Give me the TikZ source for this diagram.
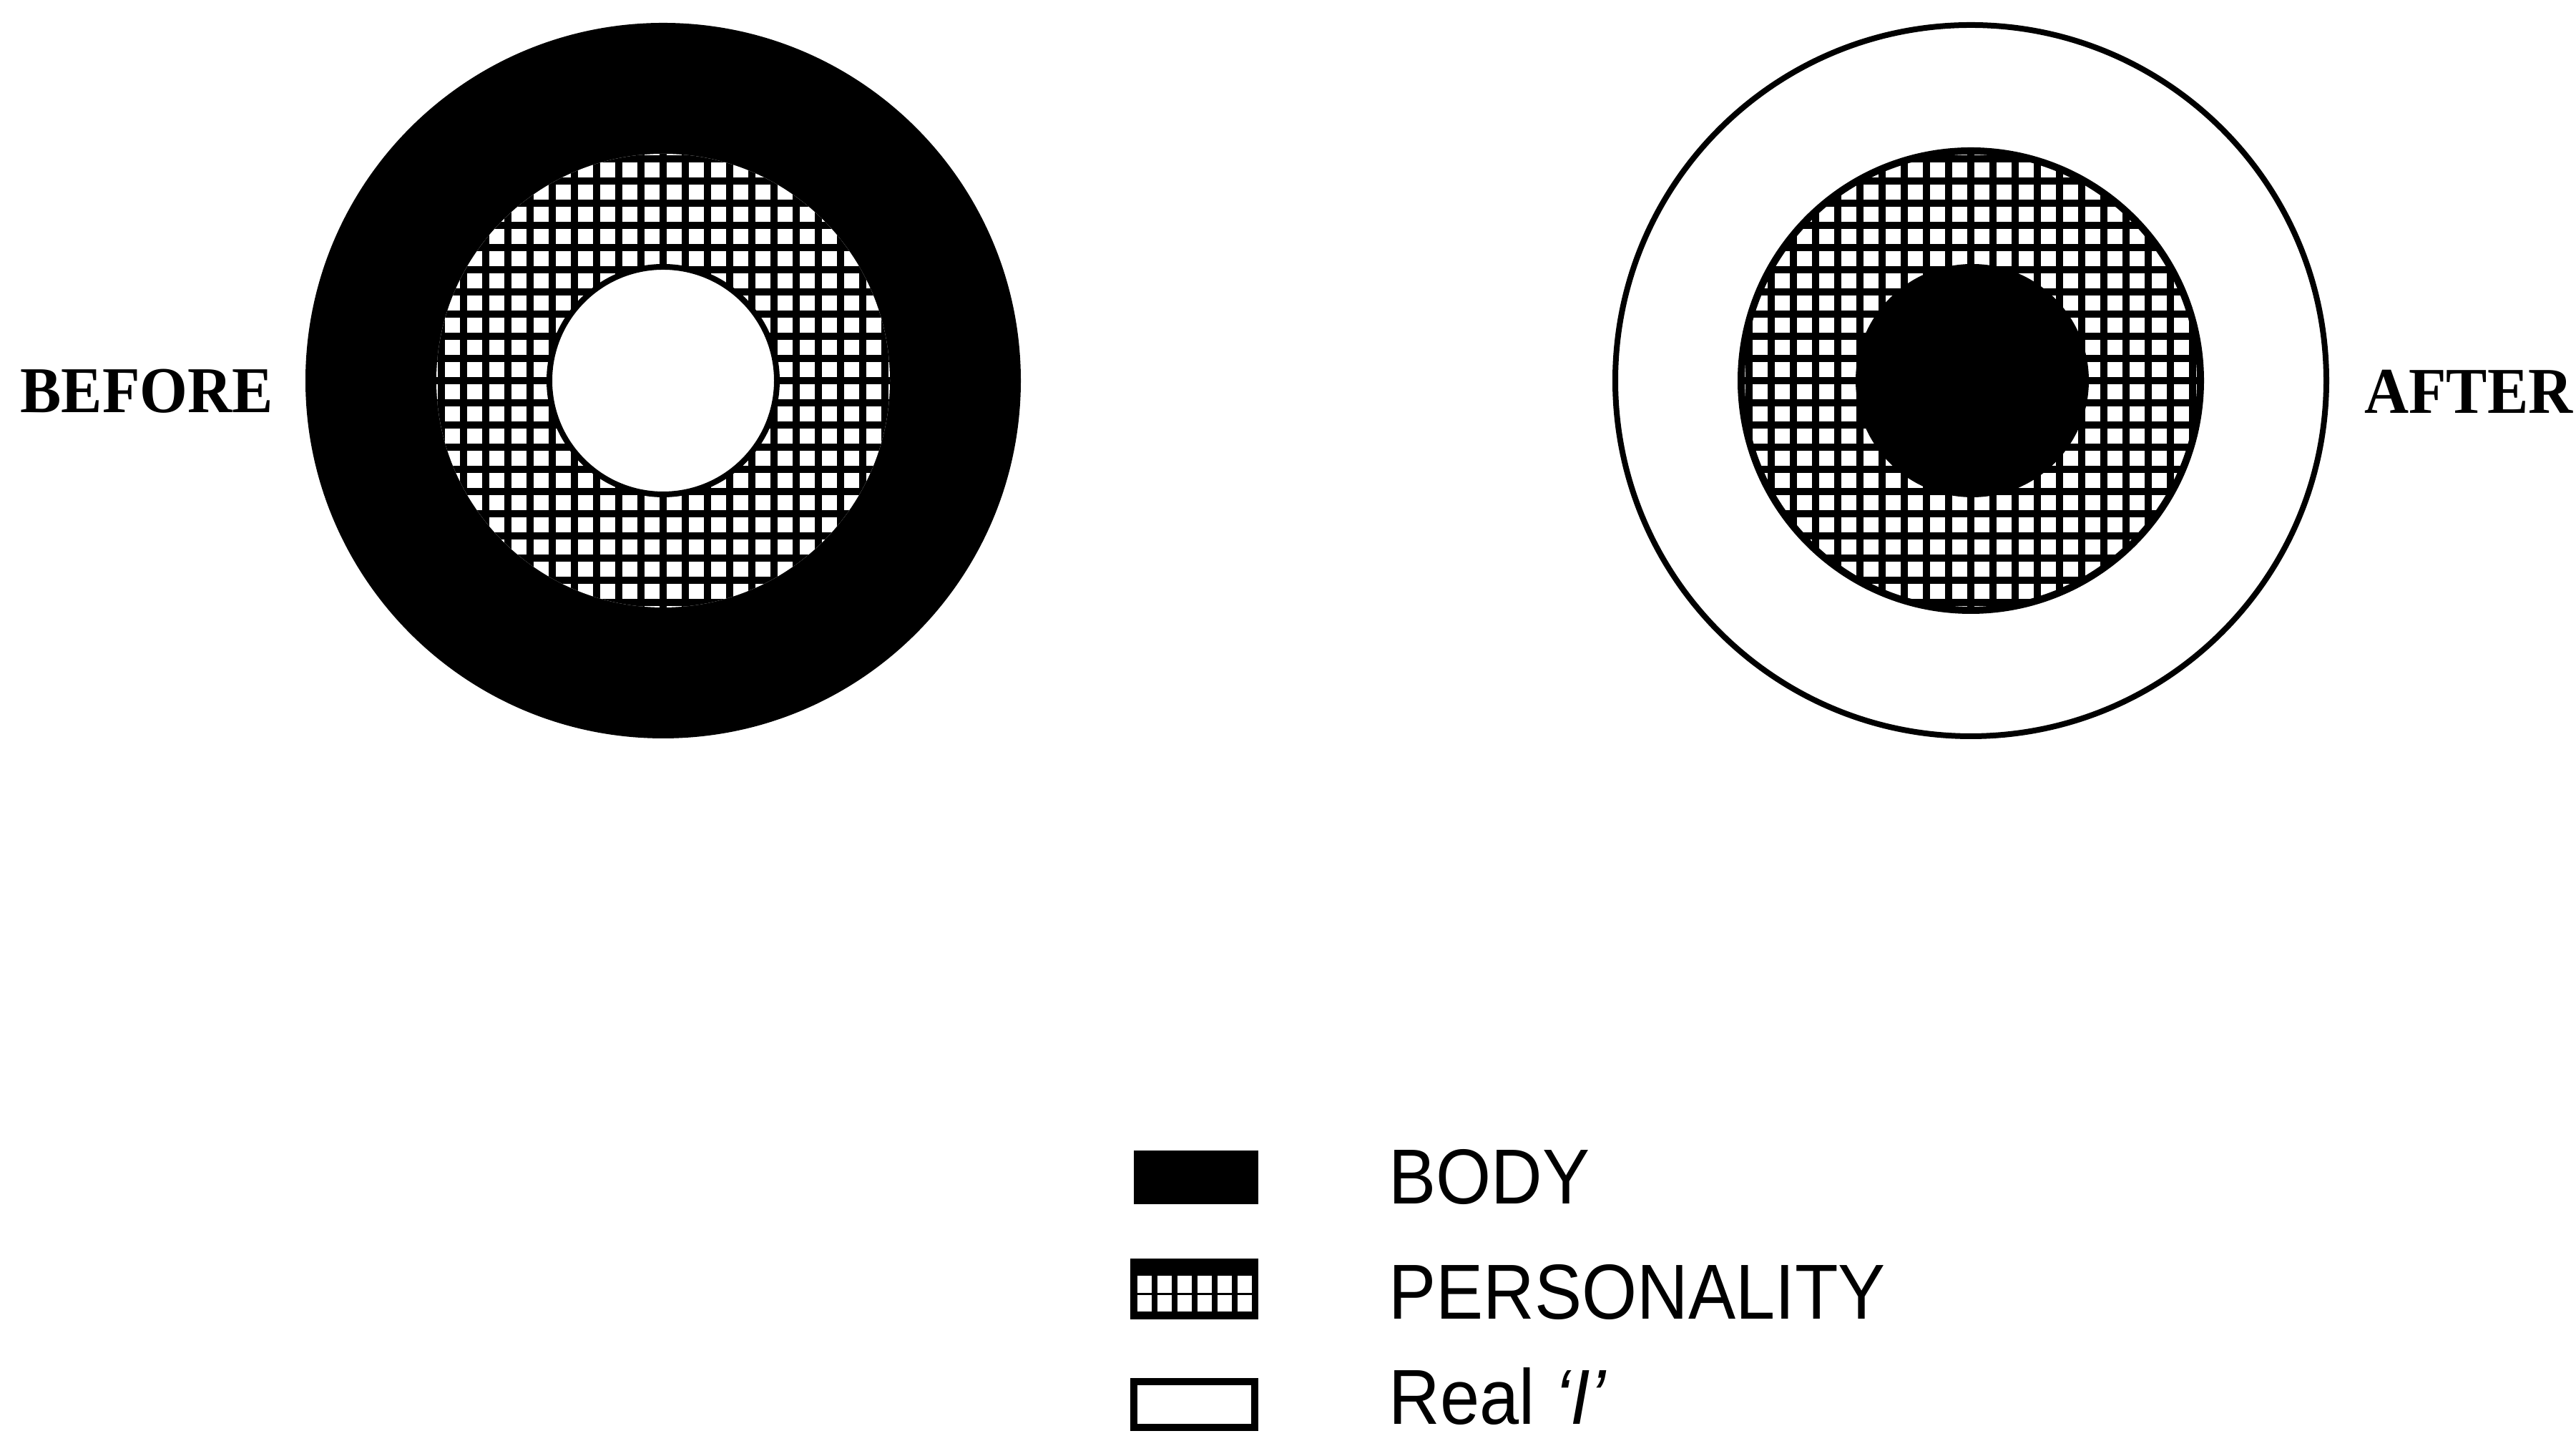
\documentclass[tikz,border=0pt]{standalone}
\usepackage{fontspec}
\setmainfont{Liberation Serif}
\newfontfamily\labelfont[FakeStretch=0.94]{Liberation Serif}
\newfontfamily\legendfont[FakeStretch=0.91]{Liberation Sans}

\begin{document}
\begin{tikzpicture}[
    mesh/.style={line width=0.1cm},
    sidelabel/.style={inner sep=0pt, font=\labelfont\bfseries\fontsize{26}{30}\selectfont},
    keytext/.style={anchor=base west, inner sep=0pt, font=\legendfont\fontsize{31}{36}\selectfont}]
            \useasboundingbox (0,0) rectangle (36.01,20.07);
            % before
            \begin{scope}[shift={(9.27,14.75)}]
                \fill[black] (0,0) circle (5.0);
                \fill[white] (0,0) circle (3.17);
                \begin{scope}
                    \clip (0,0) circle (3.17);
                    \draw[mesh, step=0.31] (-3.4,-3.4) grid (3.4,3.4);
                \end{scope}
                \filldraw[white, draw=black, line width=0.08cm] (0,0) circle (1.59);
            \end{scope}
            % after
            \begin{scope}[shift={(27.55,14.75)}]
                \draw[black, line width=0.08cm] (0,0) circle (4.97);
                \fill[white] (0,0) circle (3.21);
                \begin{scope}
                    \clip (0,0) circle (3.21);
                    \draw[mesh, step=0.31] (-3.4,-3.4) grid (3.4,3.4);
                \end{scope}
                \draw[black, line width=0.1cm] (0,0) circle (3.21);
                \fill[black] (0.02,0) circle (1.63);
            \end{scope}
            \node[sidelabel, anchor=west] (beforelabel) at (0.28,14.60) {BEFORE};
            \node[sidelabel, anchor=east] (afterlabel) at (35.97,14.60) {AFTER};
            % key
            \fill[black] (15.85,3.24) rectangle (17.59,3.99);
            \fill[black] (15.80,1.63) rectangle (17.59,2.48);
            \foreach \i in {0,...,5} {
                \fill[white] (15.90+0.28*\i,2.00) rectangle ++(0.20,0.24);
                \fill[white] (15.90+0.28*\i,1.74) rectangle ++(0.20,0.23);
            }
            \draw[black, line width=0.1cm] (15.85,0.12) rectangle (17.54,0.76);
            \node[keytext] (bodykey) at (19.41,3.24) {BODY};
            \node[keytext] (personalitykey) at (19.41,1.63) {PERSONALITY};
            \node[keytext] (realkey) at (19.41,0.16) {Real \textit{‘I’}};
        \end{tikzpicture}
\end{document}
